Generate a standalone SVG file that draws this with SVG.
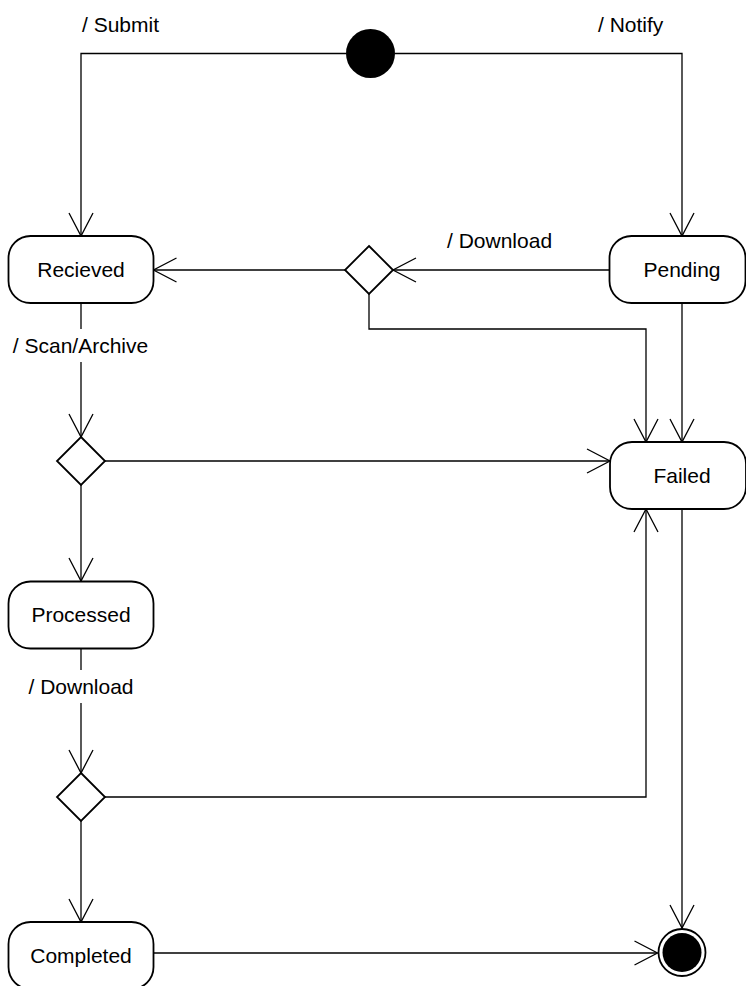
<svg xmlns="http://www.w3.org/2000/svg" width="746" height="986" viewBox="0 0 746 986">
<style>
.state{fill:#fff;stroke:#000;stroke-width:1.8}
.dec{fill:#fff;stroke:#000;stroke-width:1.8}
.lbl{font-family:"Liberation Sans",Arial,sans-serif;font-size:21px;fill:#000}
.mid{text-anchor:middle}
.conn{fill:none;stroke:#000;stroke-width:1.3}
</style>
<defs>
<marker id="arr" markerUnits="userSpaceOnUse" markerWidth="26" markerHeight="28" refX="23" refY="12" orient="auto" overflow="visible">
<path d="M0,0 L23,12 L0,24" fill="none" stroke="#000" stroke-width="1.3"/>
</marker>
</defs>
<rect width="746" height="986" fill="#fff"/>
<g id="connectors">
<path class="conn" d="M346,53.5 H81 V236" marker-end="url(#arr)"/>
<path class="conn" d="M395,53.5 H682 V236" marker-end="url(#arr)"/>
<path class="conn" d="M609.5,270 H393" marker-end="url(#arr)"/>
<path class="conn" d="M345,270 H153.5" marker-end="url(#arr)"/>
<path class="conn" d="M369,294 V329 H646 V442" marker-end="url(#arr)"/>
<path class="conn" d="M682,303 V442" marker-end="url(#arr)"/>
<path class="conn" d="M81,303 V329"/>
<path class="conn" d="M81,362 V437" marker-end="url(#arr)"/>
<path class="conn" d="M105,461 H610" marker-end="url(#arr)"/>
<path class="conn" d="M81,485 V581" marker-end="url(#arr)"/>
<path class="conn" d="M81,649 V670"/>
<path class="conn" d="M81,703 V773" marker-end="url(#arr)"/>
<path class="conn" d="M81,821 V922" marker-end="url(#arr)"/>
<path class="conn" d="M105,797 H646 V509" marker-end="url(#arr)"/>
<path class="conn" d="M682,509 V928" marker-end="url(#arr)"/>
<path class="conn" d="M153.5,953 H657.5" marker-end="url(#arr)"/>
<text class="lbl" x="82" y="32">/ Submit</text>
<text class="lbl" x="598" y="32">/ Notify</text>
<text class="lbl" x="447" y="248">/ Download</text>
<text class="lbl mid" x="80.5" y="353">/ Scan/Archive</text>
<text class="lbl mid" x="81" y="694">/ Download</text>
</g>
<g id="initial">
<circle cx="370.5" cy="53.5" r="24.5" fill="#000"/>
</g>
<g id="recieved">
<rect class="state" x="8.5" y="236" width="145" height="67" rx="22"/>
<text class="lbl mid" x="81" y="277">Recieved</text>
</g>
<g id="pending">
<rect class="state" x="609.5" y="236" width="136" height="67" rx="22"/>
<text class="lbl mid" x="682" y="277">Pending</text>
</g>
<g id="decision1">
<polygon class="dec" points="369,246 393,270 369,294 345,270"/>
</g>
<g id="decision2">
<polygon class="dec" points="81,437 105,461 81,485 57,461"/>
</g>
<g id="failed">
<rect class="state" x="610" y="442" width="136" height="67" rx="22"/>
<text class="lbl mid" x="682" y="483">Failed</text>
</g>
<g id="processed">
<rect class="state" x="8.5" y="581.5" width="145" height="67" rx="22"/>
<text class="lbl mid" x="81" y="622">Processed</text>
</g>
<g id="decision3">
<polygon class="dec" points="81,773 105,797 81,821 57,797"/>
</g>
<g id="completed">
<rect class="state" x="8.5" y="922" width="145" height="67" rx="22"/>
<text class="lbl mid" x="81" y="963">Completed</text>
</g>
<g id="final">
<circle cx="682" cy="952.5" r="23.5" fill="#fff" stroke="#000" stroke-width="1.8"/>
<circle cx="682" cy="952.5" r="19.5" fill="#000"/>
</g>
</svg>
